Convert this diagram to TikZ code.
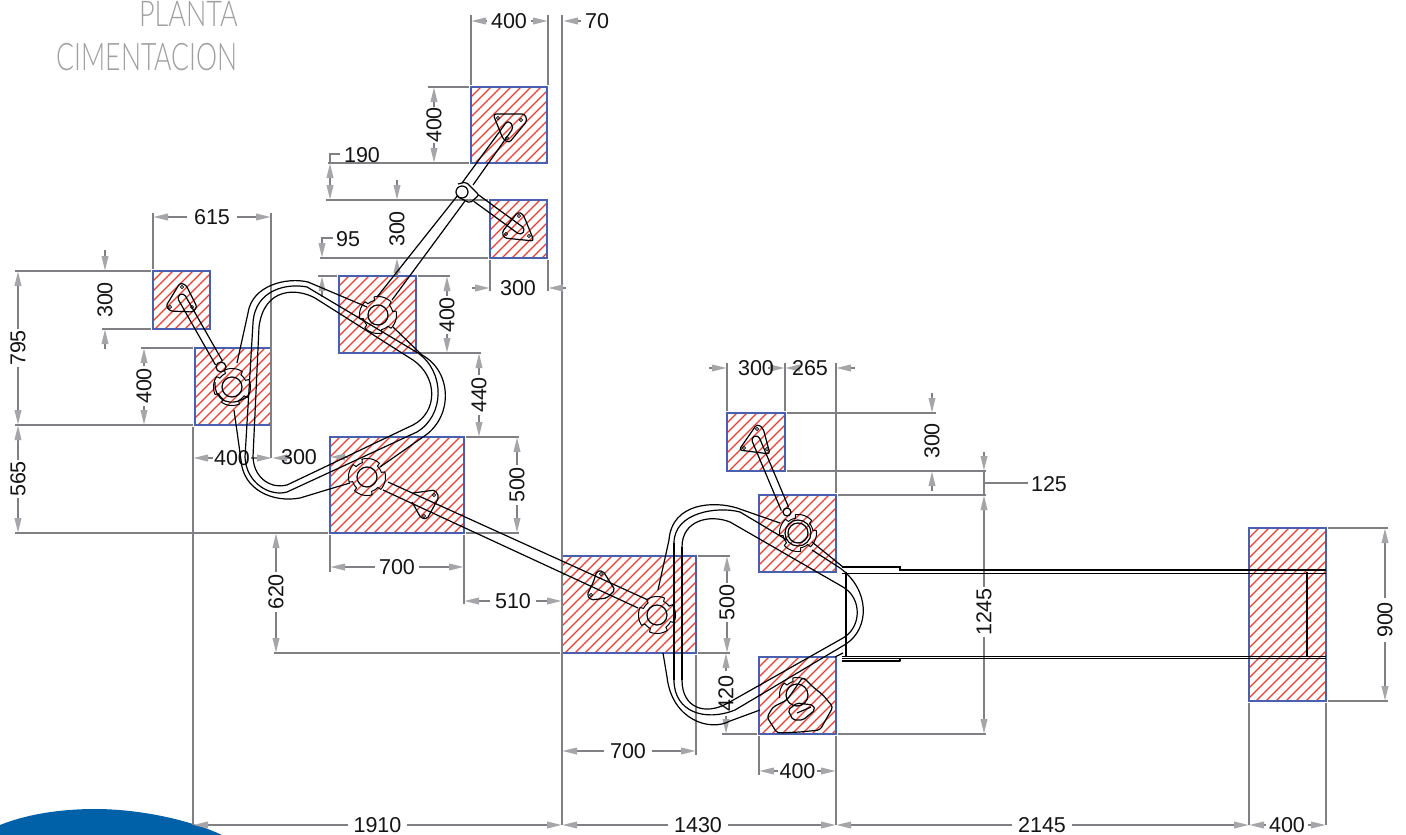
\documentclass[tikz,border=0pt]{standalone}
\usepackage{fontspec}
\setmainfont{Liberation Sans}
\newfontfamily\thinf{Lato Light}
\usetikzlibrary{arrows.meta,calc}
\definecolor{dimgray}{RGB}{128,128,132}
\definecolor{hatchred}{RGB}{235,60,50}
\definecolor{boxblue}{RGB}{75,95,175}
\definecolor{titlegray}{RGB}{160,160,163}
\definecolor{capblue}{RGB}{0,96,168}
\newcount\lc
\tikzset{
  dimline/.style={draw=dimgray,line width=2pt},
  dimarrow/.style={dimline,-{Triangle[length=15pt,width=6.5pt,color=dimgray!70]}},
  dimtext/.style={inner sep=0pt,font=\fontsize{21.5}{21.5}\selectfont,text=black!92},
  blk/.style={draw=black,line width=1.2pt,line join=round},
  thickblk/.style={draw=black,line width=2.4pt},
  hatchline/.style={draw=hatchred,line width=1.3pt},
  boxline/.style={draw=boxblue,line width=1.3pt},
}
\newcommand\hatchbox[5]{% x1 y1 x2 y2 name
  \begin{scope}
    \clip (#1,#2) rectangle (#3,#4);
    \pgfmathtruncatemacro\cstart{#1+#2}
    \pgfmathtruncatemacro\cnext{\cstart+10}
    \pgfmathtruncatemacro\cend{#3+#4}
    \foreach \c in {\cstart,\cnext,...,\cend}
      \draw[hatchline] ({\c-#2},#2) -- ({\c-#4},#4);
  \end{scope}
  \draw[boxline] (#1,#2) rectangle (#3,#4);
  \coordinate (#5) at (#1,#2);
}
\newcommand\lab[3]{\global\advance\lc by 1 \node[dimtext] (L\the\lc) at (#1,#2) {#3};}
\newcommand\vlab[3]{\global\advance\lc by 1 \node[dimtext,rotate=90] (L\the\lc) at (#1,#2) {#3};}
\newcommand\ar[4]{\draw[dimarrow] (#1,#2) -- (#3,#4);}
\newcommand\ex[4]{\draw[dimline] (#1,#2) -- (#3,#4);}
\newcommand\hd[6]{% y x1 xa xb x2 label
  \ar{#3}{#1}{#2}{#1}\ar{#4}{#1}{#5}{#1}\lab{{(#3+#4)/2}}{#1}{#6}}
\newcommand\vd[6]{% x y1 ya yb y2 label
  \ar{#1}{#3}{#1}{#2}\ar{#1}{#4}{#1}{#5}\vlab{#1}{{(#3+#4)/2}}{#6}}
\newcommand\gear[4]{% x y rinner rot
  \draw[blk] (#1,#2) circle[radius=#3];
  \draw[blk,line width=1pt] plot[domain=0:360,samples=181] ({#1+(15+3.5*(sin(4*\x+#4)>-0.5))*cos(\x)},{#2+(15+3.5*(sin(4*\x+#4)>-0.5))*sin(\x)}) -- cycle;
}
\newcommand\hole[2]{\draw[black,line width=.8pt] (#1,#2) circle[radius=1.6];}
\newcommand\arm[5]{% cap centre A, open end B, half width
  \coordinate (A) at (#1,#2); \coordinate (B) at (#3,#4);
  \coordinate (E) at ($(A)!-#5pt!(B)$);
  \draw[blk,rounded corners=#5pt] ($(B)!#5pt!90:(A)$) -- ($(E)!#5pt!-90:(B)$) -- ($(E)!#5pt!90:(B)$) -- ($(B)!#5pt!-90:(A)$);
}
\begin{document}
\begin{tikzpicture}[x=1pt,y=-1pt]
\useasboundingbox (0,0) rectangle (1406,835);
\clip (0,0) rectangle (1406,835);
% corner and title
\fill[capblue] (0,835) -- (0,825) .. controls (30,813) and (65,809) .. (95,809) .. controls (140,809) and (190,820) .. (222,835) -- cycle;
\node[anchor=base east,inner sep=0pt,text=titlegray] (t1) at (238,26) {\scalebox{.76}[1]{\thinf\fontsize{35.5}{36}\selectfont PLANTA}};
\node[anchor=base east,inner sep=0pt,text=titlegray] (t2) at (238,70) {\scalebox{.70}[1]{\thinf\fontsize{38}{38}\selectfont CIMENTACION}};
% footings
\hatchbox{471}{87}{547}{163}{s1}
\hatchbox{490}{200}{547}{258}{s2}
\hatchbox{339}{276}{416}{353}{s3}
\hatchbox{153}{271}{210}{329}{s4}
\hatchbox{195}{348}{271}{425}{s5}
\hatchbox{330}{437}{464}{533}{s6}
\hatchbox{562}{556}{696}{653}{s7}
\hatchbox{727}{413}{785}{471}{s8}
\hatchbox{759}{495}{836}{572}{s9}
\hatchbox{759}{657}{836}{734}{s10}
\hatchbox{1249}{528}{1326}{701}{s11}
% extension lines
\ex{471}{15}{471}{85}\ex{548}{15}{548}{85}
\ex{562}{15}{562}{825}
\ex{428}{87}{469}{87}
\ex{328}{163}{469}{163}
\ex{326}{200}{488}{200}
\ex{320}{258}{488}{258}
\ex{318}{276}{337}{276}\ex{418}{276}{450}{276}
\ex{418}{353}{481}{353}
\ex{466}{437}{519}{437}
\ex{15}{533}{328}{533}\ex{466}{533}{519}{533}
\ex{330}{535}{330}{572}\ex{464}{535}{464}{604}
\ex{274}{653}{560}{653}\ex{698}{653}{730}{653}
\ex{698}{556}{730}{556}
\ex{696}{655}{696}{755}
\ex{722}{734}{757}{734}\ex{838}{734}{986}{734}
\ex{759}{736}{759}{775}
\ex{836}{363}{836}{493}\ex{836}{736}{836}{825}
\ex{193}{427}{193}{825}
\ex{1249}{703}{1249}{825}\ex{1326}{703}{1326}{825}
\ex{1328}{528}{1388}{528}\ex{1328}{701}{1388}{701}
\ex{838}{495}{986}{495}
\ex{787}{413}{936}{413}\ex{787}{471}{986}{471}
\ex{727}{363}{727}{411}\ex{785}{363}{785}{411}
\ex{490}{260}{490}{291}\ex{548}{260}{548}{291}
\ex{153}{213}{153}{269}\ex{271}{213}{271}{458}
\ex{15}{271}{151}{271}\ex{102}{329}{151}{329}
\ex{15}{425}{193}{425}\ex{141}{348}{193}{348}
% dimensions
\hd{21}{471}{487}{531}{548}{400}
\ar{581}{21}{563}{21}\lab{597}{21}{70}
\vd{434}{87}{107}{143}{163}{400}
\ar{330}{181}{330}{163}\ar{330}{181}{330}{200}
\draw[dimline] (330,163) -- (330,154) -- (340,154);\lab{362}{155}{190}
\ar{397}{180}{397}{200}\ar{397}{276}{397}{258}\vlab{397}{229}{300}
\draw[dimline] (322,250) -- (322,238) -- (333,238);\ar{322}{245}{322}{258}\lab{348}{239}{95}
\ar{322}{297}{322}{276}
\vd{447}{276}{296}{334}{353}{400}
\vd{479}{353}{375}{415}{437}{440}
\vd{517}{437}{465}{505}{533}{500}
\hd{567}{330}{375}{419}{464}{700}
\hd{601}{464}{490}{536}{562}{510}
\vd{276}{533}{572}{612}{653}{620}
\vd{727}{556}{583}{622}{653}{500}
\vd{726}{653}{671}{716}{734}{420}
\hd{751}{562}{604}{652}{696}{700}
\hd{771}{759}{778}{817}{836}{400}
\hd{825}{193}{348}{407}{562}{1910}
\hd{825}{562}{668}{728}{836}{1430}
\hd{825}{836}{1012}{1072}{1249}{2145}
\hd{825}{1249}{1266}{1308}{1326}{400}
\vd{1385}{528}{598}{642}{701}{900}
\vd{984}{495}{587}{637}{734}{1245}
\ar{984}{452}{984}{471}\ex{984}{471}{984}{495}
\draw[dimline,line width=1.2pt] (984,483) -- (1028,483);\lab{1049}{484}{125}
\vlab{932}{441}{300}\ar{932}{393}{932}{413}\ar{932}{491}{932}{471}
\ar{709}{368}{727}{368}\ar{768}{368}{785}{368}\lab{756}{368}{300}
\ar{795}{368}{785}{368}\ar{855}{368}{836}{368}\lab{810}{368}{265}
\ar{472}{288}{490}{288}\ar{566}{288}{548}{288}\lab{518}{288}{300}
\hd{217}{153}{187}{237}{271}{615}
\vlab{105}{300}{300}\ar{105}{250}{105}{271}\ar{105}{349}{105}{329}
\vd{18}{271}{329}{367}{425}{795}
\vd{18}{425}{460}{498}{533}{565}
\vd{144}{348}{366}{406}{425}{400}
\hd{458}{193}{213}{251}{272}{400}
\ar{291}{458}{272}{458}
\ar{348}{457}{330}{457}\lab{299}{457}{300}
% tube loop 1 : inner and middle
\draw[blk] (259,327) -- (253,457) .. controls (254,480) and (273,489) .. (287,485) -- (413,425) .. controls (438,412) and (438,377) .. (413,360) -- (315,298) .. controls (297,288) and (264,287) .. (259,327);
\draw[blk] (253,323) -- (245,457) .. controls (246,483) and (270,497) .. (287,492) -- (417,432) .. controls (445,415) and (445,372) .. (418,353) -- (307,287) .. controls (288,283) and (255,289) .. (253,323);
\draw[blk] (367,307) -- (308,282) .. controls (287,277) and (252,285) .. (248,313) -- (237,363);
\draw[blk] (234,410) -- (241,460) .. controls (243,490) and (273,503) .. (300,498) -- (333,488) -- (350,483);
\draw[blk] (380,467) -- (423,437) .. controls (453,418) and (453,372) .. (422,355) -- (393,327);
% tube loop 2
\draw[blk] (682,547) -- (682,680);
\draw[blk,line width=2.2pt] (682,556) -- (682,653);
\draw[blk] (682,680) .. controls (682,708) and (705,716) .. (728,703) -- (843,638) .. controls (862,627) and (862,598) .. (843,587) -- (730,522) .. controls (710,514) and (682,520) .. (682,547);
\draw[blk] (674,543) -- (674,680);
\draw[blk,line width=2.2pt] (674,556) -- (674,653);
\draw[blk] (674,680) .. controls (674,712) and (705,722) .. (735,710) -- (846,644) .. controls (870,628) and (870,590) .. (840,568) -- (812,550) (740,512) -- (787,540);
\draw[blk] (740,512) .. controls (718,506) and (674,512) .. (674,543);
\draw[blk] (780,523) -- (737,508) .. controls (715,501) and (672,502) .. (669,540) -- (658,590);
\draw[blk] (663,653) -- (667,677) .. controls (672,720) and (710,732) .. (730,721) -- (760,710);
\draw[blk] (812,542) -- (843,567);
\draw[blk] (835,657) -- (843,653);
% beam
\draw[thickblk,line width=1.9pt] (842,567) -- (900,567) -- (900,570) -- (1326,570);
\draw[blk,line width=1pt] (842,573) -- (1326,573);
\draw[blk,line width=1pt] (842,656) -- (1326,656);
\draw[thickblk,line width=1.8pt] (842,658.5) -- (1326,658.5);
\draw[blk,line width=1.2pt] (842,661) -- (900,661) -- (900,659);
\draw[thickblk] (846,572) -- (846,657);
\draw[thickblk] (1307,572) -- (1307,657);
% joints
\gear{378}{315}{10}{20}
\gear{232}{387}{10}{70}
\draw[blk] (215,382) .. controls (214,402) and (232,408) .. (248,396);
\draw[blk] (221,367) circle[radius=5];
\gear{367}{477}{10}{40}
\gear{657}{615}{10}{110}
\gear{798}{533}{10}{10}
\draw[blk] (798,533) circle[radius=13];
\draw[blk] (787,512) circle[radius=4];
\draw[blk] (797,695) circle[radius=11];
\draw[blk,line width=1pt] plot[domain=170:300,samples=60] ({797+(14+3.5*(sin(4*\x+30)>-0.5))*cos(\x)},{695+(14+3.5*(sin(4*\x+30)>-0.5))*sin(\x)});
\draw[blk,rounded corners=3pt] (767,717) -- (773,707) -- (787,700) -- (803,677) -- (813,687) -- (823,695) -- (833,707) -- (820,730) -- (800,732) -- (777,733) -- cycle;
\draw[blk,rounded corners=2pt] (788,710) -- (797,703) -- (813,705) -- (815,710) -- (803,720) -- (793,720) -- cycle;
\draw[blk] (797,713) -- (811,707);
% arm and plate, upper left
\arm{182}{298}{219}{363}{4}
\draw[blk,rounded corners=2.5pt] (180,283) -- (186,285) -- (197,307) -- (193,312) -- (170,311) -- (166,306) -- cycle;
\hole{182}{287}\hole{170}{307}\hole{192}{307}
% arm, top
\draw[blk] (458,195) -- (377,297);
\draw[blk] (465,201) -- (392,300);
\draw[blk,rounded corners=4pt] (473,185) -- (514,127) -- (508,120) -- (462,183);
\draw[blk,rounded corners=3pt] (493,114) -- (525,114) -- (527,121) -- (509,143) -- (503,139) -- cycle;
\hole{498}{118}\hole{521}{120}\hole{507}{138}
\draw[blk] (462,192) circle[radius=6];
\draw[blk,rounded corners=2pt] (458,184) -- (466,182) -- (479,195) -- (470,203) -- (458,197);
\arm{520}{230}{476}{198}{4}
\draw[blk,rounded corners=3pt] (518,212) -- (523,214) -- (534,241) -- (504,238) -- (502,232) -- cycle;
\hole{519}{216}\hole{506}{234}\hole{529}{236}
% long arm
\draw[blk] (388,482) -- (648,600);
\draw[blk] (383,490) -- (638,608);
\draw[blk,rounded corners=2pt] (413,493) -- (435,490) -- (439,497) -- (427,519) -- (421,518) -- (412,502);
\hole{434}{495}\hole{424}{516}
\draw[blk,rounded corners=2pt] (597,571) -- (603,571) -- (615,590) -- (607,598) -- (591,600) -- (587,595) -- (593,583) -- cycle;
\hole{601}{574}\hole{591}{595}
% arm, right
\arm{756}{440}{785}{509}{4}
\draw[blk,rounded corners=3pt] (757,424) -- (763,428) -- (770,454) -- (739,450) -- cycle;
\hole{757}{429}\hole{744}{448}\hole{767}{449}
\end{tikzpicture}
\end{document}
